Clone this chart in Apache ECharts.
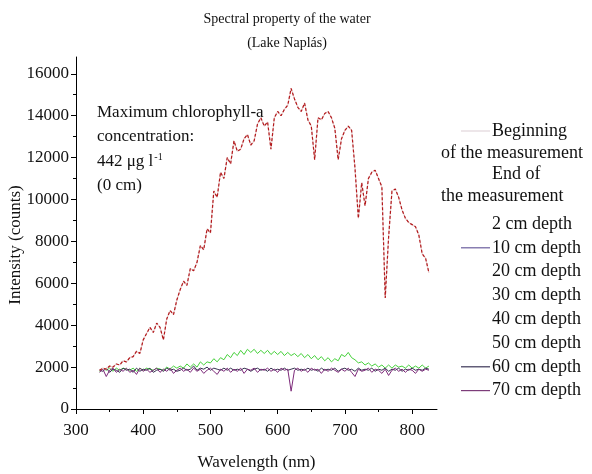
<!DOCTYPE html>
<html>
<head>
<meta charset="utf-8">
<script src="https://cdn.jsdelivr.net/npm/echarts@6/dist/echarts.min.js"></script>
<style>
  html, body { margin: 0; padding: 0; background: #fff; }
  #chart { width: 592px; height: 474px; }
</style>
</head>
<body>
<div id="chart"></div>
<script>
// Wavelength grid (nm) shared by every spectrum
const wavelength = [
  335, 340, 345, 350, 355, 360, 365, 370, 375, 380,
  385, 390, 395, 400, 405, 410, 415, 420, 425, 430,
  435, 440, 445, 450, 455, 460, 465, 470, 475, 480,
  485, 490, 495, 500, 505, 510, 515, 520, 525, 530,
  535, 540, 545, 550, 555, 560, 565, 570, 575, 580,
  585, 590, 595, 600, 605, 610, 615, 620, 625, 630,
  635, 640, 645, 650, 655, 660, 665, 670, 675, 680,
  685, 690, 695, 700, 705, 710, 715, 720, 725, 730,
  735, 740, 745, 750, 755, 760, 765, 770, 775, 780,
  785, 790, 795, 800, 805, 810, 815, 820, 825
];

// Surface spectrum (0 cm), counts
const surface0 = [
  1850, 1950, 1900, 2050, 2000, 2150, 2100, 2300, 2250, 2450,
  2500, 2750, 2650, 3300, 3600, 3900, 3650, 4100, 3900, 3300,
  4300, 4700, 4500, 5200, 5700, 6100, 5900, 6700, 6600, 7000,
  7800, 7600, 8600, 8400, 10400, 10100, 11300, 11000, 12000, 11700,
  12800, 12300, 12400, 12900, 13100, 12600, 12800, 13600, 13900, 13500,
  13700, 12400, 13900, 14200, 14000, 14300, 14500, 15300, 14800, 14400,
  14200, 14600, 13800, 13500, 11900, 13900, 13800, 14100, 14200, 13900,
  13400, 11900, 12900, 13300, 13500, 13300, 11500, 9100, 10800, 9700,
  11000, 11300, 11400, 11000, 10600, 5300, 8200, 10400, 10500, 10100,
  9500, 9100, 8900, 8800, 8700, 8300, 7400, 7200, 6500
];

// 2 cm depth
const depth2 = [
  1800, 1950, 1850, 1950, 1800, 1950, 1850, 1950, 1900, 1850,
  1950, 1800, 1950, 1850, 1950, 1900, 1850, 1950, 1900, 1850,
  2000, 1900, 2050, 1950, 2050, 1950, 2150, 2000, 2150, 2000,
  2250, 2100, 2250, 2200, 2400, 2250, 2450, 2350, 2600, 2450,
  2700, 2550, 2800, 2600, 2850, 2700, 2850, 2650, 2800, 2650,
  2800, 2600, 2750, 2600, 2750, 2550, 2700, 2550, 2650, 2500,
  2650, 2450, 2600, 2400, 2550, 2350, 2500, 2300, 2450, 2250,
  2400, 2300, 2600, 2500, 2700, 2450, 2350, 2200, 2250, 2100,
  2200, 2050, 2150, 2000, 2100, 1950, 2100, 1950, 2100, 2000,
  2050, 1950, 2100, 1950, 2050, 1950, 2100, 1950, 2050
];

// 60 cm depth
const depth60 = [
  1850, 1800, 1950, 1750, 1900, 1850, 1750, 1950, 1850, 1900,
  1750, 1950, 1800, 1900, 1850, 1950, 1750, 1850, 1900, 1800,
  1950, 1850, 1900, 1800, 1850, 1950, 1850, 1900, 2050, 1850,
  1950, 1900, 2000, 1850, 1950, 1900, 1850, 1950, 1850, 1950,
  1850, 1900, 1850, 1950, 1900, 1800, 1900, 1950, 1850, 1900,
  1800, 1950, 1850, 1900, 1850, 1950, 1850, 1900, 1950, 1850,
  1900, 1850, 1950, 1850, 1900, 1800, 1950, 1850, 1900, 1850,
  1950, 1800, 1900, 1950, 1850, 1900, 1800, 1950, 1850, 1900,
  1850, 1950, 1800, 1900, 1850, 1950, 1800, 1900, 1850, 1950,
  1800, 1900, 1850, 1950, 1850, 1900, 1850, 1950, 1900
];

// 70 cm depth
const depth70 = [
  1750, 1900, 1550, 1850, 1950, 1750, 1900, 1800, 1950, 1750,
  1850, 1650, 1950, 1800, 1900, 1750, 1850, 1950, 1750, 1900,
  1800, 1950, 1700, 1850, 1950, 1800, 1900, 1750, 1950, 1800,
  1900, 1700, 1850, 1950, 1800, 1650, 1900, 1800, 1950, 1750,
  1900, 1800, 1950, 1700, 1900, 1850, 1950, 1750, 1900, 1850,
  1950, 1800, 1900, 1750, 1950, 1850, 1900, 850, 1850, 1950,
  1800, 1900, 1750, 1950, 1850, 1900, 1700, 1900, 1800, 1950,
  1850, 1750, 1900, 1800, 1950, 1750, 1550, 1900, 1800, 1850,
  1950, 1750, 1900, 1850, 1700, 1900, 1600, 1850, 1950, 1800,
  1900, 1750, 1900, 1850, 1700, 1900, 1800, 1900, 1850
];

// Axis ticks
const xMajorTicks = [300, 400, 500, 600, 700, 800];
const xMinorTicks = [350, 450, 550, 650, 750];
const yMajorTicks = [0, 2000, 4000, 6000, 8000, 10000, 12000, 14000, 16000];
const yMinorTicks = [1000, 3000, 5000, 7000, 9000, 11000, 13000, 15000];

// Legend entries (each entry may wrap onto a second line)
const legendEntries = [
  ['Beginning', 'of the measurement'],
  ['End of', 'the measurement'],
  ['2 cm depth'],
  ['10 cm depth'],
  ['20 cm depth'],
  ['30 cm depth'],
  ['40 cm depth'],
  ['50 cm depth'],
  ['60 cm depth'],
  ['70 cm depth']
];

// Annotation text
const noteLines = ['Maximum chlorophyll-a', 'concentration:', '442 μg l{sup|-1}', '(0 cm)'];

const titleText = 'Spectral property of the water';
const subtitleText = '(Lake Naplás)';

// ---- styling ----
const SERIF = '"Liberation Serif", "Times New Roman", "DejaVu Serif", serif';
const INK = '#111';
const swatchColors = {
  'Beginning': '#e2d6da',
  '10 cm depth': '#6b5e9e',
  '60 cm depth': '#3b3557',
  '70 cm depth': '#7d3d7a'
};

const pairs = arr => wavelength.map((w, i) => [w, arr[i]]);

function lineSeries(name, arr, style) {
  return {
    name: name,
    type: 'line',
    data: pairs(arr),
    showSymbol: false,
    symbol: 'none',
    silent: true,
    lineStyle: style,
    z: 2
  };
}

// Legend drawn as text + short stroke samples at the right of the plot
function buildLegend() {
  const els = [];
  const xLine0 = 461, xLine1 = 490, xText = 492, xWrap = 441;
  let y = 131;
  legendEntries.forEach((lines, idx) => {
    const color = swatchColors[lines[0]];
    if (color) {
      els.push({
        type: 'line', silent: true,
        shape: { x1: xLine0, y1: y, x2: xLine1, y2: y },
        style: { stroke: color, lineWidth: 1.2 }
      });
    }
    lines.forEach((t, j) => {
      els.push({
        type: 'text', silent: true,
        style: {
          text: t, x: j === 0 ? xText : xWrap, y: y,
          fontFamily: SERIF, fontSize: 18, fill: INK,
          align: 'left', verticalAlign: 'middle'
        }
      });
      if (j < lines.length - 1) y += 22;
    });
    y += idx < 1 ? 21 : (idx === 1 ? 28 : 23.8);
  });
  return els;
}

const chart = echarts.init(document.getElementById('chart'), null, { renderer: 'canvas' });

const axisLineStyle = { color: '#000', width: 1 };
const plainNumber = v => String(v);

chart.setOption({
  animation: false,
  backgroundColor: '#fff',
  title: {
    text: titleText,
    subtext: subtitleText,
    left: 287,
    textAlign: 'center',
    top: 11,
    padding: 0,
    itemGap: 7,
    textStyle: { fontFamily: SERIF, fontSize: 14, fontWeight: 'normal', color: INK, lineHeight: 17 },
    subtextStyle: { fontFamily: SERIF, fontSize: 14, color: INK, lineHeight: 17 }
  },
  grid: { left: 76, right: 155, top: 57, bottom: 65, outerBoundsMode: 'none' },
  xAxis: [
    {
      type: 'value', min: 300, max: 837, position: 'bottom',
      name: 'Wavelength (nm)', nameLocation: 'middle', nameGap: 45, nameMoveOverlap: false,
      nameTextStyle: { fontFamily: SERIF, fontSize: 17, color: INK },
      axisLine: { show: true, onZero: false, lineStyle: axisLineStyle },
      axisTick: { show: true, customValues: xMajorTicks, length: 5, lineStyle: axisLineStyle },
      axisLabel: { customValues: xMajorTicks, formatter: plainNumber, fontFamily: SERIF, fontSize: 17, color: INK, margin: 13 },
      splitLine: { show: false }
    },
    {
      type: 'value', min: 300, max: 837, position: 'bottom',
      axisLine: { show: false, onZero: false },
      axisTick: { show: true, customValues: xMinorTicks, length: 3, lineStyle: axisLineStyle },
      axisLabel: { show: false },
      splitLine: { show: false }
    }
  ],
  yAxis: [
    {
      type: 'value', min: 0, max: 16800, position: 'left',
      name: 'Intensity (counts)', nameLocation: 'middle', nameGap: 52, nameRotate: 90, nameMoveOverlap: false,
      nameTextStyle: { fontFamily: SERIF, fontSize: 17, color: INK, padding: [0, 24, 0, 0] },
      axisLine: { show: true, onZero: false, lineStyle: axisLineStyle },
      axisTick: { show: true, customValues: yMajorTicks, length: 5, lineStyle: axisLineStyle },
      axisLabel: { customValues: yMajorTicks, formatter: plainNumber, fontFamily: SERIF, fontSize: 17, color: INK, margin: 7 },
      splitLine: { show: false }
    },
    {
      type: 'value', min: 0, max: 16800, position: 'left',
      axisLine: { show: false, onZero: false },
      axisTick: { show: true, customValues: yMinorTicks, length: 3, lineStyle: axisLineStyle },
      axisLabel: { show: false },
      splitLine: { show: false }
    }
  ],
  series: [
    lineSeries('2 cm depth', depth2, { color: '#45d13a', width: 1 }),
    lineSeries('60 cm depth', depth60, { color: '#363150', width: 1 }),
    lineSeries('70 cm depth', depth70, { color: '#7d2a7a', width: 1 }),
    lineSeries('Beginning of the measurement', surface0, { color: '#e8cfcf', width: 1.2 }),
    lineSeries('End of the measurement', surface0, { color: '#b3191c', width: 1.2, type: [3, 2] })
  ],
  graphic: [
    {
      type: 'text', left: 97, top: 100, silent: true,
      style: {
        text: noteLines.join('\n'),
        fontFamily: SERIF, fontSize: 17, fill: INK, lineHeight: 24.5,
        rich: {
          sup: { fontFamily: SERIF, fontSize: 10, fill: INK, verticalAlign: 'top', padding: [3, 0, 0, 1] }
        }
      }
    }
  ].concat(buildLegend())
});
</script>
</body>
</html>
